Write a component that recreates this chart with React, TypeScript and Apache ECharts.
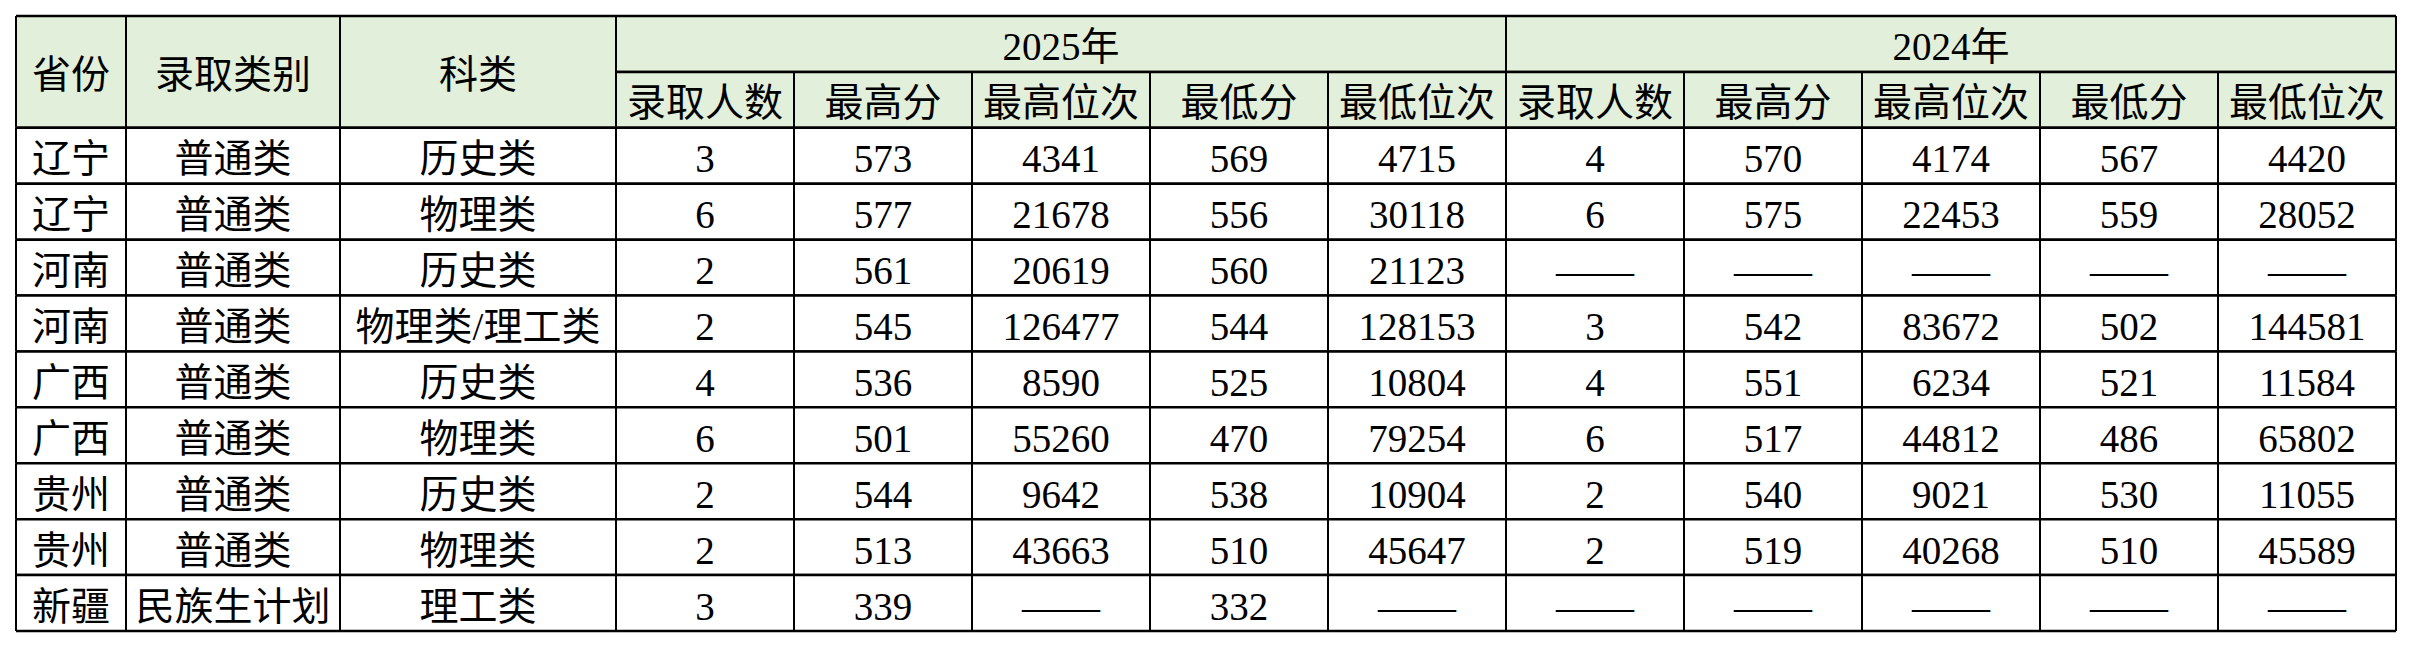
import React, { useEffect, useRef } from "react";
import * as echarts from "echarts";

// ---- data ----
const provinces = ["辽宁", "辽宁", "河南", "河南", "广西", "广西", "贵州", "贵州", "新疆"];
const admitTypes = ["普通类", "普通类", "普通类", "普通类", "普通类", "普通类", "普通类", "普通类", "民族生计划"];
const subjects = ["历史类", "物理类", "历史类", "物理类/理工类", "历史类", "物理类", "历史类", "物理类", "理工类"];

const years = ["2025年", "2024年"];
const subHeaders = ["录取人数", "最高分", "最高位次", "最低分", "最低位次"];
const fixedHeaders = ["省份", "录取类别", "科类"];

const count2025 = [3, 6, 2, 2, 4, 6, 2, 2, 3];
const high2025 = [573, 577, 561, 545, 536, 501, 544, 513, 339];
const highRank2025 = [4341, 21678, 20619, 126477, 8590, 55260, 9642, 43663, null];
const low2025 = [569, 556, 560, 544, 525, 470, 538, 510, 332];
const lowRank2025 = [4715, 30118, 21123, 128153, 10804, 79254, 10904, 45647, null];

const count2024 = [4, 6, null, 3, 4, 6, 2, 2, null];
const high2024 = [570, 575, null, 542, 551, 517, 540, 519, null];
const highRank2024 = [4174, 22453, null, 83672, 6234, 44812, 9021, 40268, null];
const low2024 = [567, 559, null, 502, 521, 486, 530, 510, null];
const lowRank2024 = [4420, 28052, null, 144581, 11584, 65802, 11055, 45589, null];

const DASH = "——";

// ---- layout ----
const COL_WIDTHS = [110, 214, 276, 178, 178, 178, 178, 178, 178, 178, 178, 178, 178];
const HEADER_BG = "#E2EFDA";

export default function App() {
  const ref = useRef<HTMLDivElement>(null);

  useEffect(() => {
    if (!ref.current) return;
    const chart = echarts.init(ref.current, null, { renderer: "svg" });

    const edges: number[] = [0];
    COL_WIDTHS.forEach((w) => edges.push(edges[edges.length - 1] + w));
    const totalW = edges[edges.length - 1];
    const nRows = 2 + provinces.length;

    const cells: any[] = [];
    // fixed headers spanning two rows
    fixedHeaders.forEach((h, i) => cells.push([edges[i], edges[i + 1], 0, 2, h, 1]));
    // year headers
    years.forEach((y, yi) => {
      const c0 = 3 + yi * 5;
      cells.push([edges[c0], edges[c0 + 5], 0, 1, y, 1]);
      subHeaders.forEach((s, si) => {
        const c = c0 + si;
        cells.push([edges[c], edges[c + 1], 1, 2, s, 1]);
      });
    });
    const cols2025 = [count2025, high2025, highRank2025, low2025, lowRank2025];
    const cols2024 = [count2024, high2024, highRank2024, low2024, lowRank2024];
    provinces.forEach((p, r) => {
      const row = r + 2;
      const vals: (string)[] = [p, admitTypes[r], subjects[r]];
      [...cols2025, ...cols2024].forEach((arr) => {
        const v = arr[r];
        vals.push(v === null || v === undefined ? DASH : String(v));
      });
      vals.forEach((v, c) => cells.push([edges[c], edges[c + 1], row, row + 1, v, 0]));
    });

    const font = '"Liberation Serif", "Noto Sans CJK SC", serif';

    chart.setOption({
      animation: false,
      grid: { left: 16, right: 16, top: 16, bottom: 17 },
      xAxis: { type: "value", min: 0, max: totalW, show: false },
      yAxis: { type: "value", min: 0, max: nRows, inverse: true, show: false },
      series: [
        {
          type: "custom",
          coordinateSystem: "cartesian2d",
          encode: { x: [0, 1], y: [2, 3] },
          data: cells,
          renderItem: (params: any, api: any) => {
            const x0 = api.value(0), x1 = api.value(1), y0 = api.value(2), y1 = api.value(3);
            const isHeader = api.value(5) === 1;
            const text = cells[params.dataIndex][4];
            const p0 = api.coord([x0, y0]);
            const p1 = api.coord([x1, y1]);
            const w = p1[0] - p0[0];
            const h = p1[1] - p0[1];
            return {
              type: "group",
              children: [
                {
                  type: "rect",
                  shape: { x: p0[0], y: p0[1], width: w, height: h },
                  style: { fill: isHeader ? HEADER_BG : "#ffffff" },
                },
                {
                  type: "text",
                  style: {
                    text,
                    x: p0[0] + w / 2,
                    y: p0[1] + h / 2 + 3,
                    align: "center",
                    verticalAlign: "middle",
                    fontSize: 39,
                    fontFamily: font,
                    fill: "#000000",
                  },
                },
                {
                  type: "line",
                  shape: { x1: p0[0], y1: p0[1], x2: p1[0], y2: p0[1] },
                  style: { stroke: "#000", lineWidth: 2.5 },
                },
                {
                  type: "line",
                  shape: { x1: p0[0], y1: p1[1], x2: p1[0], y2: p1[1] },
                  style: { stroke: "#000", lineWidth: 2.5 },
                },
                {
                  type: "line",
                  shape: { x1: p0[0], y1: p0[1], x2: p0[0], y2: p1[1] },
                  style: { stroke: "#000", lineWidth: 2 },
                },
                {
                  type: "line",
                  shape: { x1: p1[0], y1: p0[1], x2: p1[0], y2: p1[1] },
                  style: { stroke: "#000", lineWidth: 2 },
                },
              ],
            };
          },
        },
      ],
    });

    return () => chart.dispose();
  }, []);

  return (
    <div
      ref={ref}
      style={{ position: "absolute", left: 0, top: 0, width: 2412, height: 648, background: "#ffffff" }}
    />
  );
}
